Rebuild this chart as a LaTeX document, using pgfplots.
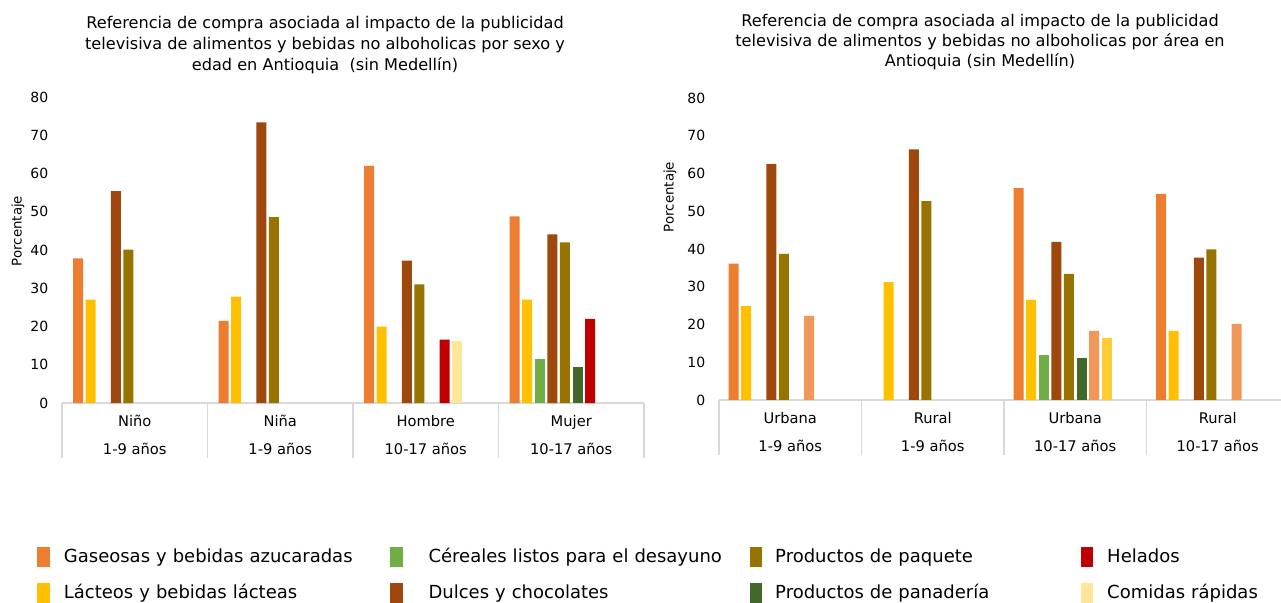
\documentclass[border=0pt]{standalone}
\usepackage{pgfplots}
\pgfplotsset{compat=1.18}
\usepackage{fontspec}
\setmainfont{DejaVu Sans}

\definecolor{gaseosa}{HTML}{ED7D31}
\definecolor{lacteo}{HTML}{FFC000}
\definecolor{cereal}{HTML}{70AD47}
\definecolor{dulce}{HTML}{9E480E}
\definecolor{paquete}{HTML}{997300}
\definecolor{panaderia}{HTML}{43682B}
\definecolor{helado}{HTML}{C00000}
\definecolor{rapida}{HTML}{FFE699}
\definecolor{salmon}{HTML}{F1975A}
\definecolor{amarillo}{HTML}{FFCD33}

\pgfplotsset{
  /pgf/number format/assume math mode=true,
  panel/.style={
    scale only axis,
    ymin=0, ymax=80, ytick={0,10,...,80},
    xmin=-0.5,
    axis x line*=bottom, axis y line*=left,
    separate axis lines,
    y axis line style={draw=none},
    x axis line style={draw=black!15, line width=0.8pt},
    major tick length=0pt,
    xtick={0,1,2,3},
    xticklabel style={align=center, font=\fontsize{11}{21}\selectfont, yshift=-5.5pt},
    yticklabel style={font=\fontsize{10.5}{12}\selectfont, xshift=-6.8pt},
    extra x tick labels={},
    extra x tick style={major tick length=41.25pt, tick align=outside,
      major tick style={draw=black!15, line width=0.8pt}},
    clip=false,
  },
  barra/.style={ybar, draw=none, fill=#1, bar width=7.5pt},
  s0/.style={barra=#1, bar shift=-42.5pt},
  s1/.style={barra=#1, bar shift=-33.05pt},
  s2/.style={barra=#1, bar shift=-23.6pt},
  s3/.style={barra=#1, bar shift=-14.15pt},
  s4/.style={barra=#1, bar shift=-4.7pt},
  s5/.style={barra=#1, bar shift=4.7pt},
  s6/.style={barra=#1, bar shift=14.15pt},
  s7/.style={barra=#1, bar shift=23.6pt},
}

\begin{document}
\begin{tikzpicture}
\useasboundingbox (0pt,0pt) rectangle (960.75pt,452.25pt);

% titulos (1 px = 0.75 pt)
\node[align=center, font=\fontsize{12.1}{16}\selectfont] at (243.75pt,418.5pt)
  {Referencia de compra asociada al impacto de la publicidad\\
   televisiva de alimentos y bebidas no alboholicas por sexo y\\
   edad en Antioquia\ \ (sin Medellín)};
\node[align=center, font=\fontsize{12.1}{15}\selectfont] at (735pt,420.7pt)
  {Referencia de compra asociada al impacto de la publicidad\\
   televisiva de alimentos y bebidas no alboholicas por área en\\
   Antioquia (sin Medellín)};
\node[rotate=90, font=\fontsize{10}{12}\selectfont] at (13.5pt,279pt) {Porcentaje};
\node[rotate=90, font=\fontsize{10}{12}\selectfont] at (502.5pt,304.5pt) {Porcentaje};

% sexo y edad
\begin{axis}[panel,
  at={(46.5pt,150pt)}, anchor=south west,
  width=436.5pt, height=229.5pt,
  xmax=3.5,
  xticklabels={{Niño\\1-9 años},{Niña\\1-9 años},{Hombre\\10-17 años},{Mujer\\10-17 años}},
  extra x ticks={-0.5,0.5,1.5,2.5,3.5},
  legend columns=2, transpose legend,
  legend style={at={(-0.0499,-0.4575)}, anchor=north west, draw=none,
    font=\fontsize{13.5}{16}\selectfont, row sep=10.5pt, column sep=0pt,
    nodes={inner xsep=0pt},
    /tikz/column 1/.style={column sep=10.5pt},
    /tikz/column 3/.style={column sep=19.5pt},
    /tikz/column 5/.style={column sep=9.75pt},
    /tikz/column 7/.style={column sep=10.5pt},
    /tikz/column 2/.style={nodes={text width=244.5pt}},
    /tikz/column 4/.style={nodes={text width=240.75pt}},
    /tikz/column 6/.style={nodes={text width=229pt}},
    /tikz/column 8/.style={nodes={text width=130pt}}},
  legend cell align=left,
  legend image code/.code={\fill[#1] (0pt,-7.5pt) rectangle (9.5pt,7.5pt);},
]
\addplot[s0=gaseosa] coordinates {(0,37.8)(1,21.5)(2,62.0)(3,48.8)};
\addlegendentry{Gaseosas y bebidas azucaradas}
\addplot[s1=lacteo] coordinates {(0,27.0)(1,27.8)(2,20.0)(3,27.0)};
\addlegendentry{Lácteos y bebidas lácteas}
\addplot[s2=cereal] coordinates {(3,11.4)};
\addlegendentry{Céreales listos para el desayuno}
\addplot[s3=dulce] coordinates {(0,55.4)(1,73.4)(2,37.2)(3,44.1)};
\addlegendentry{Dulces y chocolates}
\addplot[s4=paquete] coordinates {(0,40.1)(1,48.6)(2,31.0)(3,42.0)};
\addlegendentry{Productos de paquete}
\addplot[s5=panaderia] coordinates {(3,9.3)};
\addlegendentry{Productos de panadería}
\addplot[s6=helado] coordinates {(2,16.6)(3,22.0)};
\addlegendentry{Helados}
\addplot[s7=rapida] coordinates {(2,16.3)};
\addlegendentry{Comidas rápidas}
\end{axis}

% area y edad
\begin{axis}[panel,
  at={(539.25pt,152.25pt)}, anchor=south west,
  width=421.5pt, height=226.5pt,
  xmax=3.444,
  xticklabels={{Urbana\\1-9 años},{Rural\\1-9 años},{Urbana\\10-17 años},{Rural\\10-17 años}},
  extra x ticks={-0.5,0.5,1.5,2.5},
]
\addplot[s0=gaseosa] coordinates {(0,36.1)(2,56.1)(3,54.6)};
\addplot[s1=lacteo] coordinates {(0,24.9)(1,31.2)(2,26.5)(3,18.3)};
\addplot[s2=cereal] coordinates {(2,11.8)};
\addplot[s3=dulce] coordinates {(0,62.5)(1,66.4)(2,41.9)(3,37.7)};
\addplot[s4=paquete] coordinates {(0,38.7)(1,52.7)(2,33.4)(3,39.9)};
\addplot[s5=panaderia] coordinates {(2,11.0)};
\addplot[s6=salmon] coordinates {(0,22.3)(2,18.3)(3,20.1)};
\addplot[s7=amarillo] coordinates {(2,16.3)};
\end{axis}
\end{tikzpicture}
\end{document}
